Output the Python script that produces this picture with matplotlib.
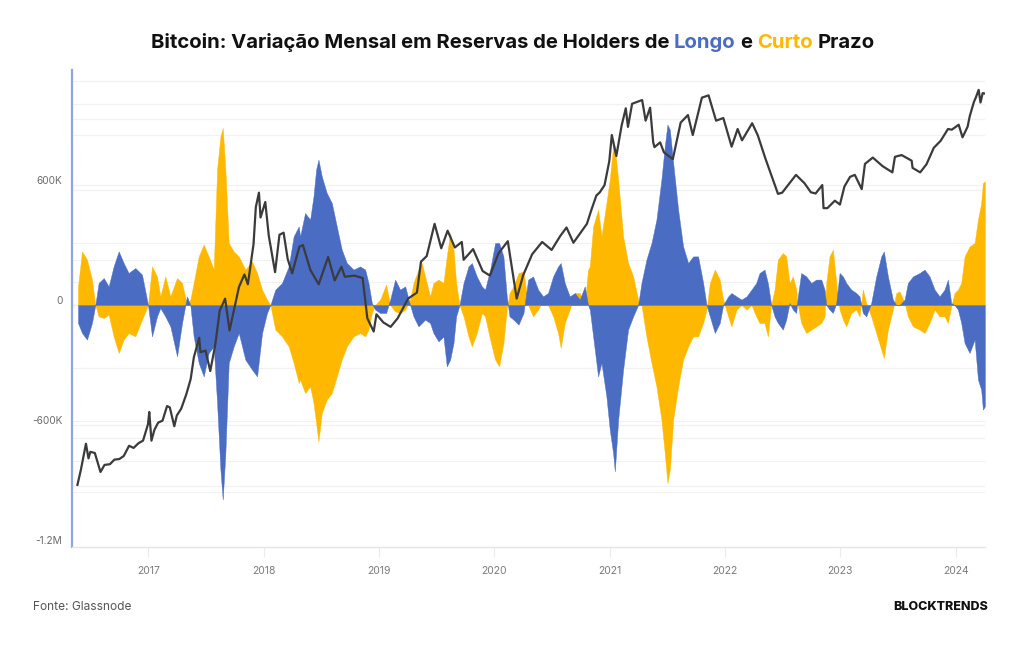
import matplotlib
matplotlib.use("Agg")
import matplotlib.pyplot as plt
import matplotlib.transforms as mtransforms

# ---------------- data ----------------
# fractional-year dates for the monthly reserve changes
dates = [
    2016.390, 2016.425, 2016.468, 2016.511, 2016.540, 2016.569, 2016.613, 2016.656, 2016.699, 2016.743,
    2016.786, 2016.829, 2016.887, 2016.945, 2016.997, 2017.032, 2017.075, 2017.104, 2017.147, 2017.191,
    2017.249, 2017.292, 2017.335, 2017.364, 2017.393, 2017.437, 2017.480, 2017.523, 2017.567, 2017.596,
    2017.625, 2017.645, 2017.668, 2017.697, 2017.740, 2017.784, 2017.841, 2017.899, 2017.943, 2017.986,
    2018.029, 2018.058, 2018.101, 2018.159, 2018.217, 2018.260, 2018.304,
    2018.316, 2018.359, 2018.403, 2018.432, 2018.455, 2018.475, 2018.504, 2018.547, 2018.591, 2018.634,
    2018.677, 2018.721, 2018.779, 2018.836, 2018.880, 2018.909, 2018.938, 2018.966,
    2019.010, 2019.062, 2019.097, 2019.140, 2019.183, 2019.227, 2019.270, 2019.299, 2019.342, 2019.371,
    2019.400, 2019.443, 2019.472, 2019.516, 2019.559, 2019.588, 2019.617, 2019.646, 2019.669, 2019.698,
    2019.733, 2019.776, 2019.805, 2019.848, 2019.892, 2019.920, 2019.964,
    2020.007, 2020.042, 2020.079, 2020.108, 2020.132, 2020.166, 2020.210, 2020.253,
    2020.293, 2020.336, 2020.380, 2020.423, 2020.466, 2020.510, 2020.553, 2020.576, 2020.611, 2020.654,
    2020.698, 2020.741, 2020.784, 2020.813, 2020.828, 2020.857, 2020.900, 2020.929, 2020.972,
    2021.001, 2021.030, 2021.045, 2021.074, 2021.117, 2021.160, 2021.204, 2021.247, 2021.276, 2021.319,
    2021.363, 2021.406, 2021.449, 2021.478, 2021.501, 2021.522, 2021.551, 2021.594, 2021.637, 2021.681,
    2021.724, 2021.767, 2021.811, 2021.840, 2021.869, 2021.912, 2021.955, 2021.984,
    2022.028, 2022.056, 2022.100, 2022.143, 2022.187, 2022.230,
    2022.271, 2022.300, 2022.343, 2022.372, 2022.401, 2022.430, 2022.459, 2022.502, 2022.531, 2022.560,
    2022.589, 2022.618, 2022.632, 2022.661, 2022.705, 2022.748, 2022.791, 2022.835, 2022.864, 2022.878,
    2022.907, 2022.936, 2022.965, 2022.994,
    2023.023, 2023.052, 2023.095, 2023.138, 2023.167, 2023.196, 2023.225, 2023.268, 2023.312, 2023.355,
    2023.378, 2023.413, 2023.456, 2023.485, 2023.514, 2023.558, 2023.586, 2023.630, 2023.688, 2023.731,
    2023.774, 2023.818, 2023.861, 2023.904, 2023.933, 2023.962, 2023.991,
    2024.020, 2024.049, 2024.078, 2024.121, 2024.165, 2024.194, 2024.222, 2024.237, 2024.254,
]

# long-term holders, monthly change (thousand BTC)
lth_k = [
    -90, -140, -173, -90, 0, 110, 135, 93, 193, 268,
    210, 160, 185, 152, 0, -157, -57, -15, -57, -107,
    -257, -90, 43, 0, -157, -290, -357, -240, -207, -490,
    -823, -973, -740, -290, -207, -140, -273, -323, -357, -140,
    -40, 0, 77, 110, 193, 343, 393,
    343, 460, 427, 543, 677, 727, 643, 560, 510, 393,
    277, 210, 177, 193, 177, 110, 10, -23,
    -40, -40, 27, 127, 77, 93, 0, -57, -107, -90,
    -73, -90, -140, -182, -157, -307, -273, -190, -57, 0,
    110, 193, 210, 143, 93, 77, 177,
    310, 310, 243, 43, -57, -73, -98, -40,
    127, 143, 77, 43, 60, 143, 193, 210, 110, 43,
    60, 27, 93, 0, -23, -157, -357, -290, -457,
    -623, -740, -832, -573, -323, -123, -57, 0, 110, 227,
    310, 427, 627, 793, 902, 877, 710, 477, 293, 210,
    243, 243, 110, 0, -57, -140, -90, 0,
    43, 60, 43, 27, 43, 77,
    110, 160, 177, 110, 0, -57, -90, -123, -73, 10,
    -23, -40, 43, 160, 143, 110, 127, 127, 77, 0,
    -23, -40, 10, 160,
    143, 110, 77, 60, 43, -40, -57, 10, 143, 243,
    268, 143, 27, 0, 0, 27, 110, 143, 160, 177,
    143, 77, 43, 77, 127, 10, 0,
    -23, -90, -190, -240, -173, -373, -423, -523, -507,
]

# short-term holders, monthly change (thousand BTC)
sth_k = [
    93, 268, 227, 127, 0, -57, -65, -48, -157, -240,
    -173, -140, -157, -73, 0, 193, 143, 43, 143, 43,
    135, 110, 0, 27, 110, 243, 302, 243, 177, 677,
    843, 885, 677, 310, 268, 243, 177, 218, 160, 77,
    27, 0, -123, -157, -207, -290, -390,
    -373, -440, -407, -490, -590, -682, -540, -473, -440, -357,
    -273, -207, -157, -140, -157, -123, -40, 0,
    27, 102, 0, -32, -40, -23, 27, 110, 177, 210,
    143, 43, 110, 127, 110, 243, 360, 277, 110, 0,
    -57, -157, -207, -140, -40, -57, -173,
    -273, -307, -190, -23, 60, 93, 160, 168,
    0, -57, -23, 27, 0, -57, -140, -215, -90, -23,
    60, 60, 0, 177, 193, 393, 477, 343, 510,
    627, 793, 793, 627, 343, 210, 143, 27, 0, -157,
    -290, -407, -573, -740, -890, -823, -573, -407, -273, -207,
    -157, -157, -90, -23, 110, 177, 127, 27,
    -57, -107, -23, 0, -23, 0,
    -57, -90, -90, -157, 0, 77, 227, 260, 243, 110,
    143, 77, 0, -90, -140, -123, -107, -90, -57, 110,
    243, 277, 110, -23,
    -73, -107, -40, -23, -57, 77, 10, -57, -140, -223,
    -265, -123, -23, 60, 68, 10, -57, -107, -123, -140,
    -90, -23, -57, -57, -90, -7, 60,
    77, 110, 243, 293, 310, 427, 510, 610, 618,
]

# Bitcoin price (USD, log axis)
price_dates = [
    2016.385, 2016.415, 2016.459, 2016.481, 2016.497, 2016.536, 2016.585, 2016.620, 2016.667, 2016.705,
    2016.749, 2016.787, 2016.833, 2016.872, 2016.915, 2016.954, 2016.997,
    2017.008, 2017.027, 2017.052, 2017.085, 2017.123, 2017.162, 2017.186, 2017.225, 2017.247, 2017.285,
    2017.329, 2017.367, 2017.395, 2017.441, 2017.452, 2017.496, 2017.537, 2017.581, 2017.619, 2017.666,
    2017.704, 2017.748, 2017.786, 2017.833, 2017.863, 2017.912, 2017.932, 2017.959, 2017.973,
    2018.014, 2018.044, 2018.099, 2018.137, 2018.173, 2018.208, 2018.247, 2018.310, 2018.340, 2018.405,
    2018.477, 2018.559, 2018.616, 2018.674, 2018.704, 2018.786, 2018.858, 2018.899, 2018.954, 2018.978,
    2019.038, 2019.101, 2019.162, 2019.252, 2019.329, 2019.364, 2019.414, 2019.482, 2019.540, 2019.595,
    2019.658, 2019.718, 2019.734, 2019.816, 2019.899, 2019.962,
    2020.036, 2020.117, 2020.194, 2020.249, 2020.328, 2020.415, 2020.497, 2020.571, 2020.626, 2020.686,
    2020.803, 2020.844, 2020.885, 2020.915, 2020.956, 2020.997,
    2021.019, 2021.058, 2021.104, 2021.140, 2021.159, 2021.195, 2021.282, 2021.312, 2021.351, 2021.378,
    2021.389, 2021.438, 2021.471, 2021.548, 2021.616, 2021.679, 2021.721, 2021.800, 2021.858, 2021.923,
    2021.986,
    2022.058, 2022.110, 2022.148, 2022.236, 2022.285, 2022.351, 2022.460, 2022.496, 2022.616, 2022.690,
    2022.745, 2022.786, 2022.844, 2022.855, 2022.888, 2022.953, 2022.997,
    2023.036, 2023.085, 2023.126, 2023.186, 2023.214, 2023.282, 2023.367, 2023.452, 2023.474, 2023.532,
    2023.619, 2023.627, 2023.693, 2023.748, 2023.811, 2023.871, 2023.934, 2023.967,
    2024.027, 2024.060, 2024.104, 2024.123, 2024.159, 2024.175, 2024.200, 2024.216, 2024.235, 2024.249,
]
price = [
    440, 535, 750, 620, 675, 665, 520, 570, 575, 610,
    615, 640, 730, 710, 755, 780, 965,
    1130, 780, 895, 985, 1010, 1220, 1200, 940, 1080, 1180,
    1420, 1730, 2300, 2950, 2450, 2500, 1920, 2720, 4200, 4900,
    3250, 4400, 5700, 6700, 5900, 9900, 16000, 19300, 14000,
    17100, 11100, 6900, 11200, 11500, 8200, 6800, 9600, 9800, 7100,
    5900, 8400, 6200, 7400, 6500, 6600, 6400, 3800, 3200, 4000,
    3600, 3400, 3800, 4900, 5300, 7900, 8500, 12900, 9400, 11800,
    9500, 10200, 8100, 9300, 7000, 6600,
    8800, 10300, 4900, 6600, 8700, 10200, 9200, 11000, 12300, 10100,
    12900, 15600, 18600, 19400, 21300, 29000,
    40700, 31000, 46000, 57500, 45200, 61000, 64000, 49000, 58000, 37000,
    34800, 37000, 32500, 29800, 47800, 52700, 40700, 66000, 68000, 49000,
    50700,
    35000, 44000, 38000, 47400, 40500, 30000, 19000, 19300, 24300, 21800,
    19400, 19100, 21300, 15800, 15800, 17400, 16550,
    20900, 23700, 24300, 20200, 28000, 30400, 27200, 25100, 30700, 31400,
    29200, 26600, 25100, 27900, 34500, 37800, 44000, 43600,
    46500, 39500, 45300, 52000, 62500, 66000, 73000, 62000, 70000, 69700,
]

year_ticks = [2017, 2018, 2019, 2020, 2021, 2022, 2023, 2024]
y_ticks = [600000, 0, -600000, -1200000]
y_tick_labels = ["600K", "0", "-600K", "-1.2M"]
price_grid = [1000, 2000, 10000, 20000, 50000]
extra_grid = [1120000, 1005000, 850000, 225000, 115000, -665000, -780000, -905000, -935000]

BLUE = "#4a6cc3"
YELLOW = "#ffb800"
FONT = ["Inter", "DejaVu Sans"]

plt.rcParams["font.family"] = FONT

lth = [v * 1000 for v in lth_k]
sth = [v * 1000 for v in sth_k]

W, H = 1024, 645
fig = plt.figure(figsize=(W / 100, H / 100), dpi=100)
fig.patch.set_facecolor("white")

ax = fig.add_axes([72 / W, 1 - 547 / H, (985 - 72) / W, (547 - 70) / H])
ax.set_xlim(2016.338, 2024.255)
ax.set_ylim(-1210000, 1175000)

for g in y_ticks[:-1] + extra_grid:
    ax.axhline(g, color="#f1f1f1", lw=0.9, zorder=0)

ax.fill_between(dates, 0, sth, color=YELLOW, lw=0.3, ec=YELLOW, zorder=2)
ax.fill_between(dates, 0, lth, color=BLUE, lw=0.3, ec=BLUE, zorder=3)

for s in ["top", "right"]:
    ax.spines[s].set_visible(False)
ax.spines["left"].set_color("#8fa6e2")
ax.spines["left"].set_linewidth(1.6)
ax.spines["bottom"].set_color("#e4e4e4")
ax.spines["bottom"].set_linewidth(1.0)

ax.set_xticks(year_ticks)
ax.set_xticklabels([str(y) for y in year_ticks])
ax.tick_params(axis="x", length=7, width=0.8, color="#ececec", labelcolor="#7a7a7a",
               labelsize=7.5, pad=7)
ax.set_yticks(y_ticks)
ax.set_yticklabels(y_tick_labels)
ax.tick_params(axis="y", length=0, labelcolor="#6a6a6a", labelsize=7.3, pad=7)
off = mtransforms.ScaledTranslation(0, 5 / 100, fig.dpi_scale_trans)
for lab in ax.get_yticklabels():
    lab.set_transform(lab.get_transform() + off)

# price axis (log scale, hidden)
ax2 = ax.twinx()
ax2.set_yscale("log")
ax2.set_ylim(197, 94400)
ax2.set_xlim(ax.get_xlim())
for g in price_grid:
    ax2.axhline(g, color="#f1f1f1", lw=0.9, zorder=0)
for s in ax2.spines.values():
    s.set_visible(False)
ax2.set_yticks([])
ax2.minorticks_off()
ax2.tick_params(axis="y", which="both", length=0, labelright=False)
ax.set_zorder(ax2.get_zorder() + 1)
ax.patch.set_visible(False)
ax.plot(price_dates, price, color="#3b3b3b", lw=1.6, zorder=5,
        transform=ax2.transData)

# title with coloured words
parts = [("Bitcoin: Variação Mensal em Reservas de Holders de", "#111111"),
         ("Longo", BLUE), ("e", "#111111"), ("Curto", YELLOW), ("Prazo", "#111111")]
fig.canvas.draw()
renderer = fig.canvas.get_renderer()
tsize = 14.6
probe1 = fig.text(0, 0, "a a", fontsize=tsize, fontweight="bold")
probe2 = fig.text(0, 0, "aa", fontsize=tsize, fontweight="bold")
space_w = probe1.get_window_extent(renderer).width - probe2.get_window_extent(renderer).width
probe1.remove(); probe2.remove()
texts = []
widths = []
for s, c in parts:
    t = fig.text(0, 1 - 43 / H, s, fontsize=tsize, fontweight="bold", color=c, va="center")
    texts.append(t)
    widths.append(t.get_window_extent(renderer).width)
total = sum(widths) + space_w * (len(parts) - 1)
x = 512.5 - total / 2
for t, w in zip(texts, widths):
    t.set_x(x / W)
    x += w + space_w

fig.text(33 / W, 1 - 607 / H, "Fonte: Glassnode", fontsize=8.6, color="#555555", va="center")
fig.text(988 / W, 1 - 607 / H, "BLOCKTRENDS", fontsize=9, fontweight="heavy", color="#111111",
         va="center", ha="right")

fig.savefig("out.png", dpi=100, facecolor="white")
